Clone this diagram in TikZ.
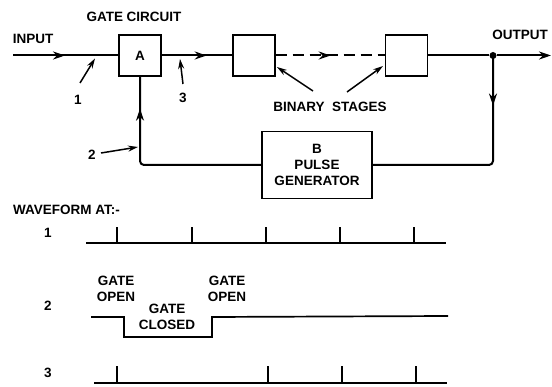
\documentclass[tikz,border=0pt]{standalone}
\usepackage{fontspec}
\setmainfont{Liberation Sans}
\usetikzlibrary{arrows.meta,decorations.markings}
\begin{document}
\begin{tikzpicture}[x=1pt,y=-1pt,
 txt/.style={font=\fontsize{13.5}{16}\selectfont\bfseries, inner sep=0pt, align=center},
 blk/.style={draw, line width=1.3pt, minimum width=42pt, minimum height=41pt, inner sep=0pt},
 wire/.style={line width=2pt},
 midarrow/.style={postaction={decorate,decoration={markings,mark=at position #1 with {\arrow{Stealth[length=12pt,width=8pt]}}}}},
 lab/.style={line width=1.5pt,-{Stealth[length=10pt,width=6pt]}},
 wave/.style={line width=1.7pt}]
\useasboundingbox (0,0) rectangle (552,387);

% top chain
\node[blk,txt] (A) at (140,55.5) {A};
\node[blk] (s1) at (254,55.5) {};
\node[blk] (s2) at (406.5,55.5) {};
\node[circle, fill, inner sep=0pt, minimum size=7pt] (j) at (493,55.5) {};
\node[draw, line width=1.3pt, minimum width=110pt, minimum height=67pt, txt] (B) at (317,165) {B\\PULSE\\GENERATOR};

\node[txt] (gc) at (134,17) {GATE CIRCUIT};
\node[txt] (in) at (33,39) {INPUT};
\node[txt] (out) at (520,35) {OUTPUT};
\node[txt] (bs) at (330,107) {BINARY\ \ STAGES};

\coordinate (start) at (13,55.5);
\coordinate (end) at (551,55.5);

\draw[wire,midarrow=52pt] (start) -- (A.west);
\draw[wire,midarrow=45pt] (A.east) -- (s1.west);
\draw[wire,dash pattern=on 11pt off 6pt,midarrow=55pt] (s1.east) -- (s2.west);
\draw[wire] (s2.east) -- (j);
\draw[wire,-{Stealth[length=12pt,width=8pt]}] (j) -- (end);
\draw[wire,rounded corners=4pt,midarrow=50pt] (j.center) |- (B.east);
\draw[wire,rounded corners=4pt,midarrow=-32pt] (B.west) -| (A.south);

% labels 1,2,3
\node[txt] (l1) at (78,100) {1};
\coordinate (l1s) at (80,83);
\coordinate (p1) at (95,58.5);
\draw[lab] (l1s) -- (p1);
\node[txt] (l3) at (183,98) {3};
\coordinate (l3s) at (183,84);
\coordinate (p3) at (180,59);
\draw[lab] (l3s) -- (p3);
\node[txt] (l2) at (92,155) {2};
\coordinate (l2s) at (101,153);
\coordinate (p2) at (138,147);
\draw[lab] (l2s) -- (p2);
\coordinate (b1s) at (313,91);
\coordinate (b1e) at (277,67);
\coordinate (b2s) at (347,92);
\coordinate (b2e) at (383,66);
\draw[lab] (b1s) -- (b1e);
\draw[lab] (b2s) -- (b2e);

% waveforms
\node[txt,anchor=west] (wf) at (13,210) {WAVEFORM AT:-};
\node[txt] (w1) at (48,233) {1};
\node[txt] (w2) at (48,306) {2};
\node[txt] (w3) at (48,373) {3};

\draw[wave] (86,243) -- (446,243);
\foreach \x in {117,192,266,340,414} \draw[wave] (\x,243) -- (\x,227);

\draw[wave] (91,317) -- (124,317) -- (124,337) -- (212,337) -- (212,317) -- (448,316);
\node[txt] (go1) at (116,289) {GATE\\OPEN};
\node[txt] (gcl) at (167,316.5) {GATE\\CLOSED};
\node[txt] (go2) at (227,289) {GATE\\OPEN};

\draw[wave] (94,383) -- (447,383);
\foreach \x in {117,268,342,416} \draw[wave] (\x,383) -- (\x,366);
\end{tikzpicture}
\end{document}
